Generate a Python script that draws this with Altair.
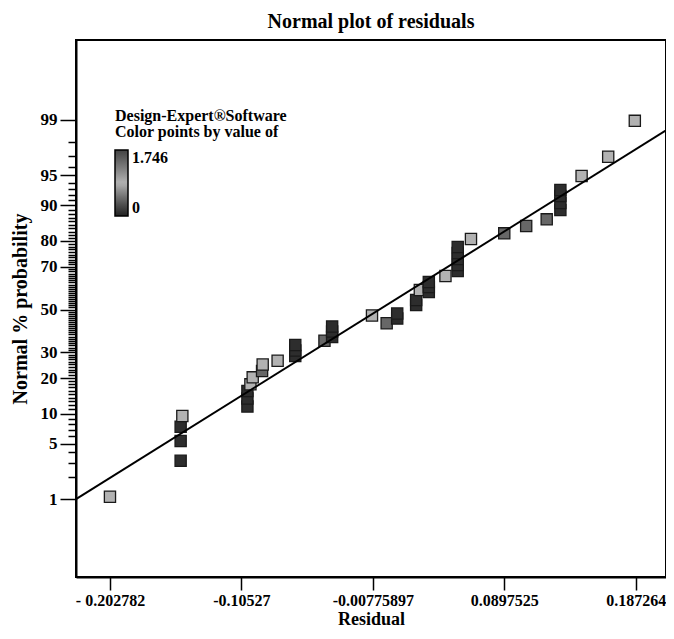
import altair as alt
import pandas as pd
from statistics import NormalDist

ND = NormalDist()

# ---- data ----
residual = [-0.20280, -0.15035, -0.15035, -0.15035, -0.14909,
            -0.10080, -0.10080, -0.10080, -0.09858, -0.09688,
            -0.08993, -0.08948, -0.07839, -0.06530, -0.06530,
            -0.06530, -0.04363, -0.03794, -0.03794, -0.03794,
            -0.00836, 0.00252, 0.01035, 0.01035, 0.02440,
            0.02440, 0.02714, 0.03380, 0.03380, 0.03380,
            0.04615, 0.05524, 0.05524, 0.05524, 0.05524,
            0.05524, 0.06508, 0.08978, 0.10605, 0.12128,
            0.13142, 0.13142, 0.13142, 0.13142, 0.14717,
            0.16691, 0.18666]
percent = [1.08, 3.18, 5.33, 7.52, 9.56,
           11.70, 13.74, 15.87, 17.93, 20.27,
           22.52, 24.98, 26.50, 28.41, 30.75,
           33.15, 35.09, 36.80, 39.36, 41.73,
           47.06, 43.28, 45.62, 48.04, 52.20,
           54.64, 59.46, 58.50, 60.88, 63.21,
           65.95, 68.16, 70.75, 73.23, 75.59,
           77.84, 80.65, 82.51, 84.73, 86.58,
           88.89, 90.44, 91.82, 92.87, 94.93,
           96.96, 98.97]
color_value = [0.87, 0.08, 0.08, 0.08, 0.87,
               0.08, 0.08, 0.08, 0.87, 0.87,
               1.45, 0.87, 0.87, 0.08, 0.08,
               0.08, 1.45, 0.08, 0.08, 0.08,
               0.87, 1.45, 0.08, 0.08, 0.08,
               0.08, 0.87, 0.08, 0.08, 0.08,
               0.87, 0.08, 0.08, 0.08, 0.08,
               0.08, 0.87, 1.45, 1.45, 1.45,
               0.08, 0.08, 0.08, 0.08, 0.87,
               0.87, 0.87]

line_residual = [-0.2280, 0.2098]
line_percent = [1.0, 98.6]

x_tick_values = [-0.202782, -0.10527, -0.00775897, 0.0897525, 0.187264]
x_tick_labels = ["- 0.202782", "-0.10527", "-0.00775897", "0.0897525", "0.187264"]
y_major = [1, 5, 10, 20, 30, 50, 70, 80, 90, 95, 99]
y_all = list(range(1, 100))

x_domain = [-0.2280, 0.2098]
z_domain = [-3.282, 3.307]
color_domain = [0, 0.873, 1.746]
legend_values = [0, 1.746]
color_range = ["#222222", "#b3b3b3", "#444444"]

FONT = "Liberation Serif"


def z_of(p):
    return ND.inv_cdf(p / 100.0)


pts = pd.DataFrame({
    "residual": residual,
    "percent": percent,
    "z": [z_of(p) for p in percent],
    "value": color_value,
})
fit = pd.DataFrame({
    "residual": line_residual,
    "z": [z_of(p) for p in line_percent],
})

y_vals = [z_of(p) for p in y_all]
major_test = " || ".join(f"abs(datum.value - ({z_of(p):.10f})) < 1e-6" for p in y_major)
y_label_expr = "".join(
    f"abs(datum.value - ({z_of(p):.10f})) < 1e-6 ? '{p}' : " for p in y_major) + "''"
x_label_expr = "".join(
    f"abs(datum.value - ({v})) < 1e-9 ? '{lab}' : " for v, lab in zip(x_tick_values, x_tick_labels)) + "''"

x_enc = alt.X(
    "residual:Q",
    scale=alt.Scale(domain=x_domain, nice=False, zero=False),
    axis=alt.Axis(values=x_tick_values, labelExpr=x_label_expr, title="Residual",
                  tickSize=13, labelPadding=2, titlePadding=2, grid=False,
                  labelFontSize=16, titleFontSize=18,
                  labelOverlap=False, labelFlush=False),
)
y_enc = alt.Y(
    "z:Q",
    scale=alt.Scale(domain=z_domain, nice=False, zero=False),
    axis=alt.Axis(values=y_vals, labelExpr=y_label_expr, title="Normal % probability",
                  tickSize={"condition": {"test": major_test, "value": 16}, "value": 8},
                  labelPadding=3, titlePadding=10, grid=False,
                  labelOverlap=False, labelFlush=False),
)

points = alt.Chart(pts).mark_point(
    shape="square", filled=True, size=125, opacity=1,
    stroke="#1a1a1a", strokeWidth=1.3,
).encode(
    x=x_enc,
    y=y_enc,
    color=alt.Color(
        "value:Q",
        scale=alt.Scale(domain=color_domain, range=color_range),
        legend=alt.Legend(
            title=["Design-Expert®Software", "Color points by value of"],
            orient="none", legendX=39, legendY=68, padding=0,
            values=legend_values, labelExpr="format(datum.value, '.4~g')",
            gradientLength=66, gradientThickness=13,
            gradientStrokeColor="black", gradientStrokeWidth=1.5,
            titleFont=FONT, titleFontSize=16, titleFontWeight="bold",
            titleColor="black", titleLineHeight=16, titlePadding=10,
            labelFont=FONT, labelFontSize=16, labelFontWeight="bold",
            labelColor="black", labelOffset=4, direction="vertical",
        ),
    ),
)

line = alt.Chart(fit).mark_line(color="black", strokeWidth=2).encode(
    x=x_enc,
    y=y_enc,
)

chart = alt.layer(points, line).properties(
    width=590,
    height=537,
    title=alt.TitleParams(
        "Normal plot of residuals", font=FONT, fontSize=20, fontWeight="bold",
        anchor="middle", offset=8, color="black",
    ),
    autosize=alt.AutoSizeParams(type="none"),
    padding={"left": 68, "top": 32, "right": 0, "bottom": 53},
).configure_view(
    stroke="black", strokeWidth=2,
).configure_axis(
    domainColor="black", domainWidth=2, tickColor="black", tickWidth=1.5,
    labelFont=FONT, labelFontSize=17, labelFontWeight="bold", labelColor="black",
    titleFont=FONT, titleFontSize=20, titleFontWeight="bold", titleColor="black",
)

chart.save("out.html", embed_options={"renderer": "svg", "actions": False})
